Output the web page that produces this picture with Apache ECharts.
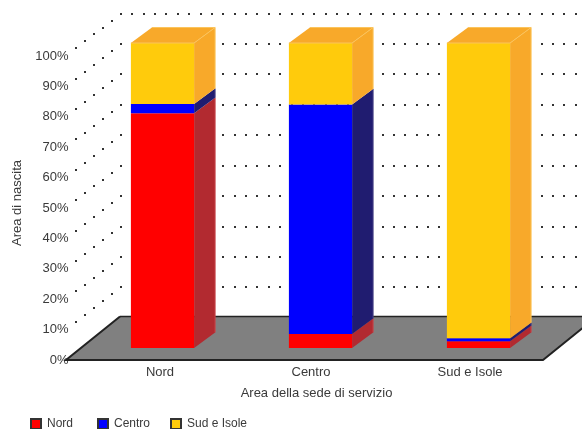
<!DOCTYPE html>
<html><head><meta charset="utf-8">
<style>html,body{margin:0;padding:0;background:#fff}#c{width:582px;height:429px}</style>
<script src="https://cdn.jsdelivr.net/npm/echarts@6/dist/echarts.min.js"></script>
</head><body><div id="c"></div>
<script>
const categories = ['Nord', 'Centro', 'Sud e Isole'];
const nord = [77.0, 4.6, 2.2];
const centro = [3.0, 75.2, 1.0];
const sud = [20.0, 20.2, 96.8];
const wallTicks = [0, 10, 20, 30, 40, 50, 60, 70, 80, 90, 100];

const FONT = '"Liberation Sans", Arial, sans-serif';
const TXT = '#3a3a3a';
const chart = echarts.init(document.getElementById('c'), null, {renderer: 'canvas'});

function offsets() {
  const cum = [0, 0, 0];
  return [nord, centro, sud].map(vals => vals.map((v, i) => {
    const row = [i, cum[i], cum[i] + v];
    cum[i] += v;
    return row;
  }));
}
const stacks = offsets();

function barItem(front, side, top, edge) {
  return function (params, api) {
    const band = api.size([1, 0])[0];
    const w = band * 0.4;
    const cx = api.coord([api.value(0), 0])[0];
    const yB = api.coord([0, api.value(1)])[1];
    const yT = api.coord([0, api.value(2)])[1];
    const x1 = cx - w / 2, x2 = cx + w / 2;
    const dx = 21, dy = -15.5;
    const kids = [
      {type: 'polygon', shape: {points: [[x2, yT], [x2 + dx, yT + dy], [x2 + dx, yB + dy], [x2, yB]]}, style: {fill: side}},
      {type: 'rect', shape: {x: x2 + dx - 0.5, y: yT + dy, width: 1, height: yB - yT}, style: {fill: edge}},
      {type: 'rect', shape: {x: x1, y: yT, width: w, height: yB - yT}, style: {fill: front}}
    ];
    if (top) {
      kids.push({type: 'polygon', shape: {points: [[x1, yT], [x1 + dx, yT + dy], [x2 + dx, yT + dy], [x2, yT]]}, style: {fill: side}});
      kids.push({type: 'polyline', shape: {points: [[x1, yT], [x2, yT], [x2 + dx, yT + dy], [x1 + dx, yT + dy]]}, style: {fill: 'none', stroke: edge, lineWidth: 1}});
    }
    return {type: 'group', children: kids};
  };
}

function dot(x, y) {
  return {type: 'rect', shape: {x: Math.round(x) - 1, y: Math.round(y) - 1, width: 2, height: 2}, style: {fill: '#333'}};
}

function wallItem(params, api) {
  const t = api.value(0);
  const y = api.coord([0, t])[1];
  const r = params.coordSys;
  const kids = [];
  const bx = r.x + 55, by = y - 42.3;
  if (t > 0) {
    for (let k = 1; k <= 5; k++) {
      kids.push(dot(bx - 9 * k, by + 6.9 * k));
    }
  }
  for (let k = 0; k < 41; k++) {
    kids.push(dot(bx + 11.37 * k, by));
  }
  return {type: 'group', children: kids};
}

function floorItem(params, api) {
  const r = params.coordSys;
  const y0 = api.coord([0, 0])[1];
  const xl = r.x, xr = r.x + r.width;
  const yb = y0 - 43.5;
  const pts = [[xl, y0], [xl + 54, yb], [xr + 54, yb], [xr, y0]];
  return {type: 'group', children: [
    {type: 'polygon', shape: {points: pts}, style: {fill: '#808080'}},
    {type: 'polyline', shape: {points: [[xl + 54, yb], [xr + 54, yb]]}, style: {fill: 'none', stroke: '#222', lineWidth: 1.5}},
    {type: 'polyline', shape: {points: [[xl + 54, yb], [xl, y0], [xr, y0], [xr + 54, yb]]}, style: {fill: 'none', stroke: '#222', lineWidth: 2}}
  ]};
}

function legendFor(name, left) {
  return {
    left: left, top: 418, padding: 0, itemWidth: 10, itemHeight: 10,
    icon: 'rect', selectedMode: false, data: [name],
    itemStyle: {borderColor: '#333', borderWidth: 2},
    textStyle: {color: TXT, fontSize: 12, fontFamily: FONT, padding: [0, 0, 0, 1]}
  };
}

chart.setOption({
  animation: false,
  backgroundColor: '#fff',
  textStyle: {fontFamily: FONT},
  grid: [
    {left: 83.5, width: 474, top: 43, height: 305},
    {left: 66, width: 477, top: 56, height: 304},
    {left: 82.5, width: 465, top: 56, height: 304}
  ],
  xAxis: [
    {gridIndex: 0, type: 'category', data: categories, show: false},
    {gridIndex: 1, type: 'category', data: categories, show: false},
    {gridIndex: 2, type: 'category',
      data: categories.map(c => c === 'Centro' ? {value: c, textStyle: {padding: [0, 8, 0, 0]}} : c),
      axisLine: {show: false}, axisTick: {show: false},
      axisLabel: {color: TXT, fontSize: 13, margin: 6, fontFamily: FONT},
      name: 'Area della sede di servizio', nameLocation: 'middle', nameGap: 27,
      nameTextStyle: {color: TXT, fontSize: 13, fontFamily: FONT, padding: [0, 0, 0, 3]}}
  ],
  yAxis: [
    {gridIndex: 0, type: 'value', min: 0, max: 100, show: false},
    {gridIndex: 1, type: 'value', min: 0, max: 100, interval: 10,
      axisLine: {show: false}, axisTick: {show: false}, splitLine: {show: false},
      axisLabel: {formatter: '{value}%', color: TXT, fontSize: 13, margin: -2.5, padding: [0, 0, 3, 0], fontFamily: FONT},
      name: 'Area di nascita', nameLocation: 'middle', nameGap: 38, nameRotate: 90,
      nameTextStyle: {color: TXT, fontSize: 13, fontFamily: FONT, padding: [0, 0, 0, 10]}},
    {gridIndex: 2, type: 'value', min: 0, max: 100, show: false}
  ],
  legend: [legendFor('Nord', 30), legendFor('Centro', 97), legendFor('Sud e Isole', 170)],
  series: [
    {type: 'custom', name: 'wall', xAxisIndex: 1, yAxisIndex: 1, clip: false, z: 1, silent: true,
      data: wallTicks.map(t => [t]), renderItem: wallItem, encode: {y: 0}},
    {type: 'custom', name: 'floor', xAxisIndex: 1, yAxisIndex: 1, clip: false, z: 2, silent: true,
      data: [[0]], renderItem: floorItem, encode: {y: 0}},
    {type: 'custom', name: 'Nord', xAxisIndex: 0, yAxisIndex: 0, clip: false, z: 3, silent: true,
      itemStyle: {color: '#ff0000'}, data: stacks[0],
      renderItem: barItem('#ff0000', '#b22a30', false, '#c8454b'), encode: {x: 0, y: 2}},
    {type: 'custom', name: 'Centro', xAxisIndex: 0, yAxisIndex: 0, clip: false, z: 3, silent: true,
      itemStyle: {color: '#0000ff'}, data: stacks[1],
      renderItem: barItem('#0000ff', '#201c70', false, '#4a4688'), encode: {x: 0, y: 2}},
    {type: 'custom', name: 'Sud e Isole', xAxisIndex: 0, yAxisIndex: 0, clip: false, z: 4, silent: true,
      itemStyle: {color: '#ffcb0c'}, data: stacks[2],
      renderItem: barItem('#ffcb0c', '#f8a92a', true, '#fbc45c'), encode: {x: 0, y: 2}}
  ]
});
</script></body></html>
